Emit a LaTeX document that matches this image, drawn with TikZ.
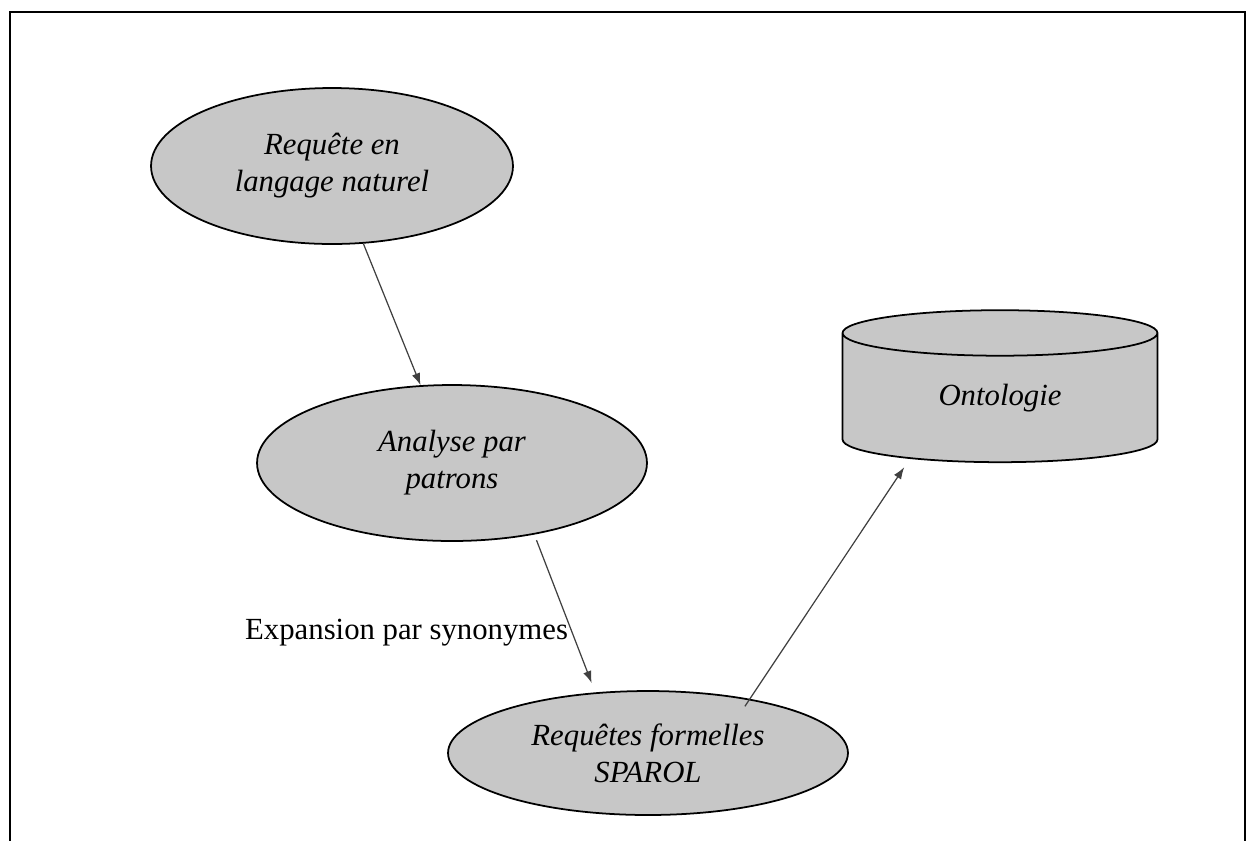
\documentclass[tikz,border=0pt]{standalone}
\usepackage{fontspec}
\setmainfont{Liberation Serif}
\usepackage{tikz}
\usetikzlibrary{arrows.meta, positioning, shapes.geometric}

\begin{document}
\begin{tikzpicture}[x=0.02cm, y=-0.02cm,
		bulle/.style={ellipse, draw=black, line width=1pt, fill=black!22, inner sep=0pt, align=center, font=\fontsize{17.5}{21}\selectfont\itshape},
		fleche/.style={draw=black!75, line width=0.7pt, -{Latex[length=0.24cm, width=0.17cm]}}]
	\useasboundingbox (0,0) rectangle (1250,840);
	% cadre
	\draw[line width=1.1pt] (10,860) -- (10,12) -- (1245,12) -- (1245,860);

	\node[bulle, minimum width=7.24cm, minimum height=3.12cm] (req) at (332,166) {Requête en\\langage naturel};
	\node[bulle, minimum width=7.8cm, minimum height=3.12cm] (ana) at (452,463) {Analyse par\\patrons};
	\node[bulle, minimum width=8cm, minimum height=2.48cm] (sparql) at (648,753) {Requêtes formelles\\SPAROL};
	\node[cylinder, shape border rotate=90, aspect=0.37, draw=black, line width=1pt, fill=black!22,
		minimum width=6.3cm, minimum height=3.04cm, inner sep=0pt,
		font=\fontsize{17.5}{21}\selectfont\itshape] (onto) at (1000,398) {Ontologie};

	\draw[fleche] (req) -- (ana);
	\draw[fleche, shorten <=0.12cm, shorten >=0.2cm] (ana.-41) -- node[pos=0.62, left, inner sep=2pt, font=\fontsize{17.5}{21}\selectfont] {Expansion par synonymes} (sparql.131);
	\draw[fleche, shorten <=-0.18cm, shorten >=0.2cm] (sparql.28) -- (onto.-146);
\end{tikzpicture}
\end{document}
